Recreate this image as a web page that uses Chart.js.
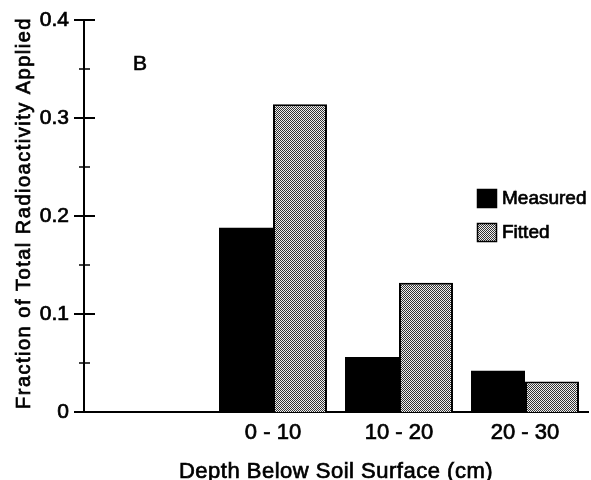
<!DOCTYPE html>
<html><head><meta charset="utf-8">
<script src="https://cdn.jsdelivr.net/npm/chart.js@4/dist/chart.umd.min.js"></script>
<style>html,body{margin:0;padding:0;background:#fff}#wrap{width:591px;height:480px}</style>
</head><body><div id="wrap"><canvas id="c" width="591" height="480"></canvas></div>
<script>
const categories = ['', '0 - 10', '10 - 20', '20 - 30'];
const measured = [null, 0.188, 0.056, 0.042];
const fitted = [null, 0.314, 0.132, 0.031];
const yMajorTicks = [0, 0.1, 0.2, 0.3, 0.4];
const yMinorTicks = [0.05, 0.15, 0.25, 0.35];
const seriesNames = ['Measured', 'Fitted'];
const panelLabel = 'B';
const xTitle = 'Depth Below Soil Surface (cm)';
const yTitle = 'Fraction of Total Radioactivity Applied';

const FONT = "'Liberation Sans', Arial, Helvetica, sans-serif";
const TEXT_STROKE = 0.7;
Chart.defaults.font.family = FONT;
Chart.defaults.color = '#000';

function makePattern() {
  const p = document.createElement('canvas');
  p.width = 2; p.height = 2;
  const g = p.getContext('2d');
  g.fillStyle = '#f0f0f0'; g.fillRect(0, 0, 2, 2);
  g.fillStyle = '#333333'; g.fillRect(0, 0, 1, 1); g.fillRect(1, 1, 1, 1);
  return g.createPattern(p, 'repeat');
}
const stipple = makePattern();

function heavyText(ctx, txt, x, y) {
  ctx.fillText(txt, x, y);
  ctx.lineWidth = TEXT_STROKE;
  ctx.strokeStyle = '#000';
  ctx.strokeText(txt, x, y);
}

const decor = {
  id: 'decor',
  afterDraw(chart) {
    const ctx = chart.ctx;
    const y = chart.scales.y;
    const area = chart.chartArea;
    const ax = area.left;
    ctx.save();
    ctx.strokeStyle = '#000';
    ctx.lineWidth = 2;
    yMajorTicks.forEach(v => {
      const py = Math.round(y.getPixelForValue(v));
      ctx.beginPath(); ctx.moveTo(ax - 10, py); ctx.lineTo(ax + 11, py); ctx.stroke();
    });
    ctx.lineWidth = 1.5;
    yMinorTicks.forEach(v => {
      const py = Math.round(y.getPixelForValue(v));
      ctx.beginPath(); ctx.moveTo(ax - 5, py); ctx.lineTo(ax + 6, py); ctx.stroke();
    });
    ctx.fillStyle = '#000';
    ctx.font = '22px ' + FONT;
    ctx.letterSpacing = '0.5px';
    ctx.textAlign = 'center'; ctx.textBaseline = 'alphabetic';
    heavyText(ctx, xTitle, (area.left + area.right) / 2, 478);
    ctx.font = '20px ' + FONT;
    ctx.letterSpacing = '1.5px';
    ctx.save();
    ctx.translate(30, (area.top + area.bottom) / 2 - 3);
    ctx.rotate(-Math.PI / 2);
    heavyText(ctx, yTitle, 0, 0);
    ctx.restore();
    ctx.letterSpacing = '0px';
    ctx.font = '21px ' + FONT;
    ctx.textAlign = 'left';
    heavyText(ctx, panelLabel, 133, 70);
    ctx.font = '19px ' + FONT;
    ctx.textBaseline = 'middle';
    chart.data.datasets.forEach((ds, i) => {
      const top = 189 + i * 34;
      ctx.fillStyle = ds.backgroundColor;
      ctx.fillRect(477, top, 20, 19);
      ctx.lineWidth = 1.5; ctx.strokeStyle = '#000';
      ctx.strokeRect(477.5, top + 0.5, 19, 18);
      ctx.fillStyle = '#000';
      heavyText(ctx, ds.label, 502, top + 10);
    });
    ctx.restore();
  }
};

new Chart(document.getElementById('c'), {
  type: 'bar',
  data: {
    labels: categories,
    datasets: [
      { label: seriesNames[0], data: measured, backgroundColor: '#000', borderColor: '#000', borderWidth: 0,
        categoryPercentage: 0.857, barPercentage: 1.0 },
      { label: seriesNames[1], data: fitted, backgroundColor: stipple, borderColor: '#000', borderWidth: 2,
        categoryPercentage: 0.857, barPercentage: 1.0 }
    ]
  },
  options: {
    responsive: false,
    animation: false,
    devicePixelRatio: 1,
    layout: { padding: { top: 20, right: 3, left: 0, bottom: 0 } },
    plugins: { legend: { display: false }, tooltip: { enabled: false }, title: { display: false } },
    scales: {
      x: {
        type: 'category',
        offset: true,
        grid: { display: false, drawTicks: false },
        border: { display: true, color: '#000', width: 2 },
        ticks: { font: { size: 22 }, color: '#000', padding: 8, maxRotation: 0,
                 textStrokeColor: '#000', textStrokeWidth: TEXT_STROKE },
        afterFit(s) { s.height = 68; }
      },
      y: {
        min: 0, max: 0.4,
        afterBuildTicks(s) { s.ticks = yMajorTicks.map(v => ({ value: v })); },
        grid: { display: false, drawTicks: false },
        border: { display: true, color: '#000', width: 2 },
        ticks: { font: { size: 21 }, color: '#000', padding: 15,
                 textStrokeColor: '#000', textStrokeWidth: TEXT_STROKE },
        afterFit(s) { s.width = 84; s.paddingTop = 0; s.paddingBottom = 0; }
      }
    }
  },
  plugins: [decor]
});
</script>
</body></html>
